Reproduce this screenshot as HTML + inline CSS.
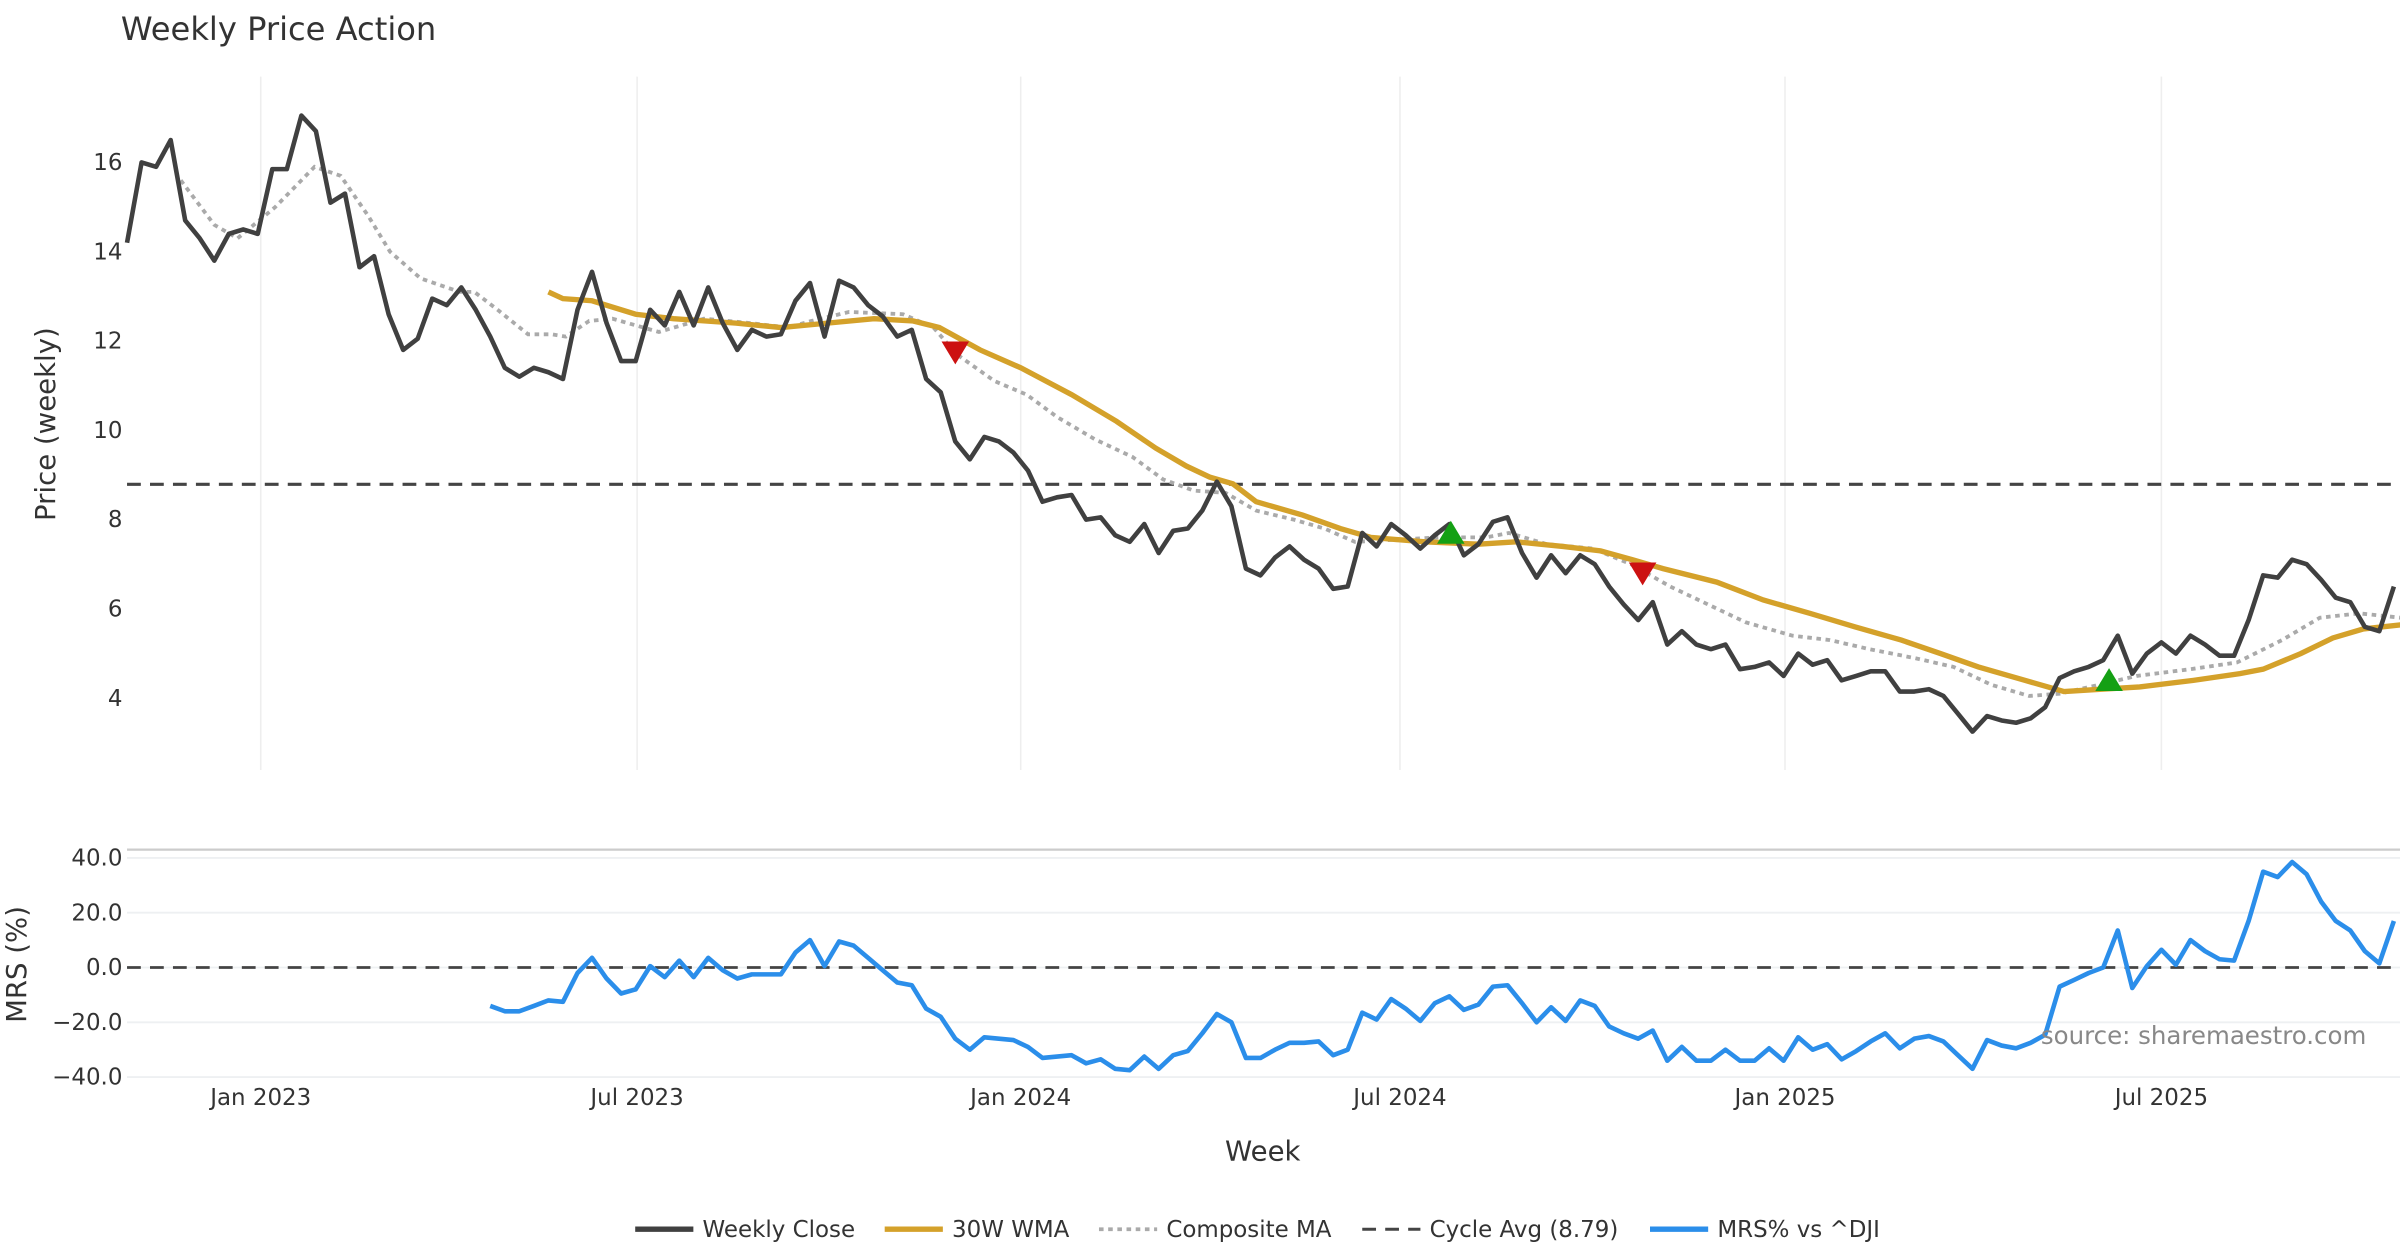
<!DOCTYPE html>
<html><head><meta charset="utf-8"><style>
html,body{margin:0;padding:0;background:#fff;}
svg{display:block;font-family:"DejaVu Sans","Liberation Sans",sans-serif;}
</style></head><body>
<svg id="chart" width="2400" height="1260" viewBox="0 0 1568 823">
<text x="79" y="26" font-size="21" fill="#333">Weekly Price Action</text>
<g id="grid"></g>
<line x1="83" y1="555" x2="1568" y2="555" stroke="#ccc" stroke-width="1.5"/>
<g id="marks"></g>
<text transform="translate(36,277) rotate(-90)" text-anchor="middle" font-size="18" fill="#333">Price (weekly)</text>
<text transform="translate(17,630) rotate(-90)" text-anchor="middle" font-size="18" fill="#333">MRS (%)</text>
<text x="825" y="758" text-anchor="middle" font-size="18" fill="#333">Week</text>
<text x="1546" y="682" text-anchor="end" font-size="16" fill="#888">source: sharemaestro.com</text>
<g id="legend" font-size="15" fill="#333">
<line x1="415" y1="803" x2="453" y2="803" stroke="#404040" stroke-width="3.5"/><text x="459" y="808">Weekly Close</text>
<line x1="578" y1="803" x2="616" y2="803" stroke="#D4A12A" stroke-width="3.5"/><text x="622" y="808">30W WMA</text>
<line x1="718" y1="803" x2="756" y2="803" stroke="#aaa" stroke-width="2.5" stroke-dasharray="3,3"/><text x="762" y="808">Composite MA</text>
<line x1="890" y1="803" x2="928" y2="803" stroke="#444" stroke-width="2" stroke-dasharray="9,6"/><text x="934" y="808">Cycle Avg (8.79)</text>
<line x1="1078" y1="803" x2="1116" y2="803" stroke="#2B8EEA" stroke-width="3.5"/><text x="1122" y="808">MRS% vs ^DJI</text>
</g>
</svg>
<script>
const closeValues=[14.2,16.0,15.9,16.5,14.7,14.3,13.8,14.4,14.5,14.4,15.85,15.85,17.05,16.7,15.1,15.3,13.65,13.9,12.6,11.8,12.05,12.95,12.8,13.2,12.7,12.1,11.4,11.2,11.4,11.3,11.15,12.7,13.55,12.4,11.55,11.55,12.7,12.35,13.1,12.35,13.2,12.4,11.8,12.25,12.1,12.15,12.9,13.3,12.1,13.35,13.2,12.8,12.55,12.1,12.25,11.15,10.85,9.75,9.35,9.85,9.75,9.5,9.1,8.4,8.5,8.55,8.0,8.05,7.65,7.5,7.9,7.25,7.75,7.8,8.2,8.85,8.3,6.9,6.75,7.15,7.4,7.1,6.9,6.45,6.5,7.7,7.4,7.9,7.65,7.35,7.65,7.9,7.2,7.45,7.95,8.05,7.25,6.7,7.2,6.8,7.2,7.0,6.5,6.1,5.75,6.15,5.2,5.5,5.2,5.1,5.2,4.65,4.7,4.8,4.5,5.0,4.75,4.85,4.4,4.5,4.6,4.6,4.15,4.15,4.2,4.05,3.65,3.25,3.6,3.5,3.45,3.55,3.8,4.45,4.6,4.7,4.85,5.4,4.55,5.0,5.25,5.0,5.4,5.2,4.95,4.95,5.75,6.75,6.7,7.1,7.0,6.65,6.25,6.15,5.6,5.5,6.5];
const wmaWeeks=[29,30,32,35,37.6,41.9,45,48.2,51.4,54.1,55.9,58.7,61.5,65,68.1,70.8,72.9,74.5,76.1,77.7,80.9,83.5,85.6,89.3,93,95.6,98.8,101.4,103.6,105.7,109.4,112.6,115.8,118.9,122.1,124.8,127.4,130.6,133.3,135.9,138.5,142.2,145.4,147,149.6,151.8,153.9,156.7];
const wmaValues=[13.1,12.95,12.9,12.6,12.5,12.4,12.3,12.4,12.5,12.45,12.3,11.8,11.4,10.8,10.2,9.6,9.2,8.95,8.8,8.4,8.1,7.8,7.6,7.5,7.45,7.5,7.4,7.3,7.1,6.9,6.6,6.2,5.9,5.6,5.3,5.0,4.7,4.4,4.15,4.2,4.25,4.4,4.55,4.65,5.0,5.35,5.55,5.65];
const compWeeks=[3.7,6,7.6,10.2,12.9,14.7,16.6,18.1,20.2,22.9,23.9,25.5,27.6,29.2,30.2,31.8,33.4,36.6,39.7,42.9,45.5,47.1,49.7,53.4,55.5,57.1,59.7,61.9,64,66.6,69.2,71.3,73.4,75.6,77.7,80.3,82.4,84.5,87.2,90.3,93.5,95.1,97.7,100.9,103.5,106.2,108.8,111.4,114.6,117.2,119.9,123,125.7,128.3,130.9,133,135.7,138.3,142,145.2,148.3,150.9,153.6,156.5];
const compValues=[15.6,14.6,14.3,15.0,15.9,15.7,14.8,14.0,13.4,13.1,13.1,12.7,12.15,12.15,12.1,12.45,12.5,12.2,12.5,12.4,12.3,12.45,12.65,12.6,12.3,11.7,11.1,10.8,10.3,9.8,9.4,8.9,8.65,8.6,8.2,8.0,7.8,7.5,7.55,7.6,7.6,7.7,7.45,7.35,7.0,6.5,6.1,5.7,5.4,5.3,5.1,4.9,4.7,4.3,4.05,4.1,4.3,4.5,4.65,4.8,5.3,5.8,5.9,5.8];
const mrsStart=25;
const mrsValues=[-14,-16,-16,-14,-12,-12.5,-2,3.5,-4,-9.5,-8,0.5,-3.5,2.5,-3.5,3.5,-1,-4,-2.5,-2.5,-2.5,5.5,10,0.5,9.5,8,3.5,-1,-5.5,-6.5,-15,-18,-26,-30,-25.5,-26,-26.5,-29,-33,-32.5,-32,-35,-33.5,-37,-37.5,-32.5,-37,-32,-30.5,-24,-17,-20,-33,-33,-30,-27.5,-27.5,-27,-32,-30,-16.5,-19,-11.5,-15,-19.5,-13,-10.5,-15.5,-13.5,-7,-6.5,-13,-20,-14.5,-19.5,-12,-14,-21.5,-24,-26,-23,-34,-29,-34,-34,-30,-34,-34,-29.5,-34,-25.5,-30,-28,-33.5,-30.5,-27,-24,-29.5,-26,-25,-27,-32,-37,-26.5,-28.5,-29.5,-27.5,-24.5,-7,-4.5,-2,0,13.5,-7.5,0.5,6.5,1,10,6,3,2.5,17,35,33,38.5,34,24,17,13.5,6,1.5,17];
const sellWeeks=[57,104.3];const sellValues=[11.75,6.8];
const buyWeeks=[91.1,136.4];const buyValues=[7.7,4.4];
const cycleAvg=8.79;
const priceTicks=[16,14,12,10,8,6,4];
const mrsTicks=[40,20,0,-20,-40];
const mrsTickLabels=["40.0","20.0","0.0","\u221220.0","\u221240.0"];
const dateWeeks=[9.2,35.1,61.5,87.6,114.1,140];
const dateLabels=["Jan 2023","Jul 2023","Jan 2024","Jul 2024","Jan 2025","Jul 2025"];

const NS="http://www.w3.org/2000/svg";
const X0=83,XW=(1564-83)/156;
const xs=i=>X0+i*XW;
const yp=v=>106+(16-v)*29.17;
const ym=v=>632-v*1.79;
const grid=document.getElementById('grid'),marks=document.getElementById('marks');
function mk(tag,attrs,parent){const e=document.createElementNS(NS,tag);for(const k in attrs)e.setAttribute(k,attrs[k]);parent.appendChild(e);return e;}
dateWeeks.forEach((w,i)=>{
  const l=mk('line',{x1:xs(w),x2:xs(w),y1:50,y2:503,stroke:'#eee','stroke-width':1},grid);
  
  
  const t=mk('text',{x:xs(w),y:722,'text-anchor':'middle','font-size':15,fill:'#333'},grid);
  t.textContent=dateLabels[i];
  
  
});
priceTicks.forEach(v=>{
  const t=mk('text',{x:80,y:yp(v)+5,'text-anchor':'end','font-size':15,fill:'#333'},grid);
  t.textContent=v;
  
  
});
mrsTicks.forEach((v,i)=>{
  const l=mk('line',{x1:83,x2:1568,y1:ym(v),y2:ym(v),stroke:'#eef0f2','stroke-width':1.2},grid);
  
  
  const t=mk('text',{x:80,y:ym(v)+5,'text-anchor':'end','font-size':15,fill:'#333'},grid);
  t.textContent=mrsTickLabels[i];
  
  
});
function path(ws,vs,yf){return ws.map((w,i)=>(i?'L':'M')+xs(w).toFixed(1)+','+yf(vs[i]).toFixed(1)).join('');}
const cyc=mk('line',{x1:83,x2:1568,y1:yp(cycleAvg),y2:yp(cycleAvg),stroke:'#444','stroke-width':2,'stroke-dasharray':'9,6'},marks);


const z=mk('line',{x1:83,x2:1568,y1:ym(0),y2:ym(0),stroke:'#444','stroke-width':1.8,'stroke-dasharray':'9,6'},marks);


const cp=mk('path',{d:path(compWeeks,compValues,yp),fill:'none',stroke:'#aaa','stroke-width':2.5,'stroke-dasharray':'3,3'},marks);


const wp=mk('path',{d:path(wmaWeeks,wmaValues,yp),fill:'none',stroke:'#D4A12A','stroke-width':3.5},marks);


const cl=mk('path',{d:path(closeValues.map((v,i)=>i),closeValues,yp),fill:'none',stroke:'#404040','stroke-width':3,'stroke-linejoin':'round'},marks);


const mp=mk('path',{d:path(mrsValues.map((v,i)=>i+mrsStart),mrsValues,ym),fill:'none',stroke:'#2B8EEA','stroke-width':3,'stroke-linejoin':'round'},marks);


sellWeeks.forEach((w,i)=>{const x=xs(w),y=yp(sellValues[i]);
  const p=mk('polygon',{points:`${x-9},${y-7} ${x+9},${y-7} ${x},${y+8}`,fill:'#CC1111'},marks);
  
  });
buyWeeks.forEach((w,i)=>{const x=xs(w),y=yp(buyValues[i]);
  const p=mk('polygon',{points:`${x-9},${y+7} ${x+9},${y+7} ${x},${y-8}`,fill:'#14A014'},marks);
  
  });
</script>
</body></html>
